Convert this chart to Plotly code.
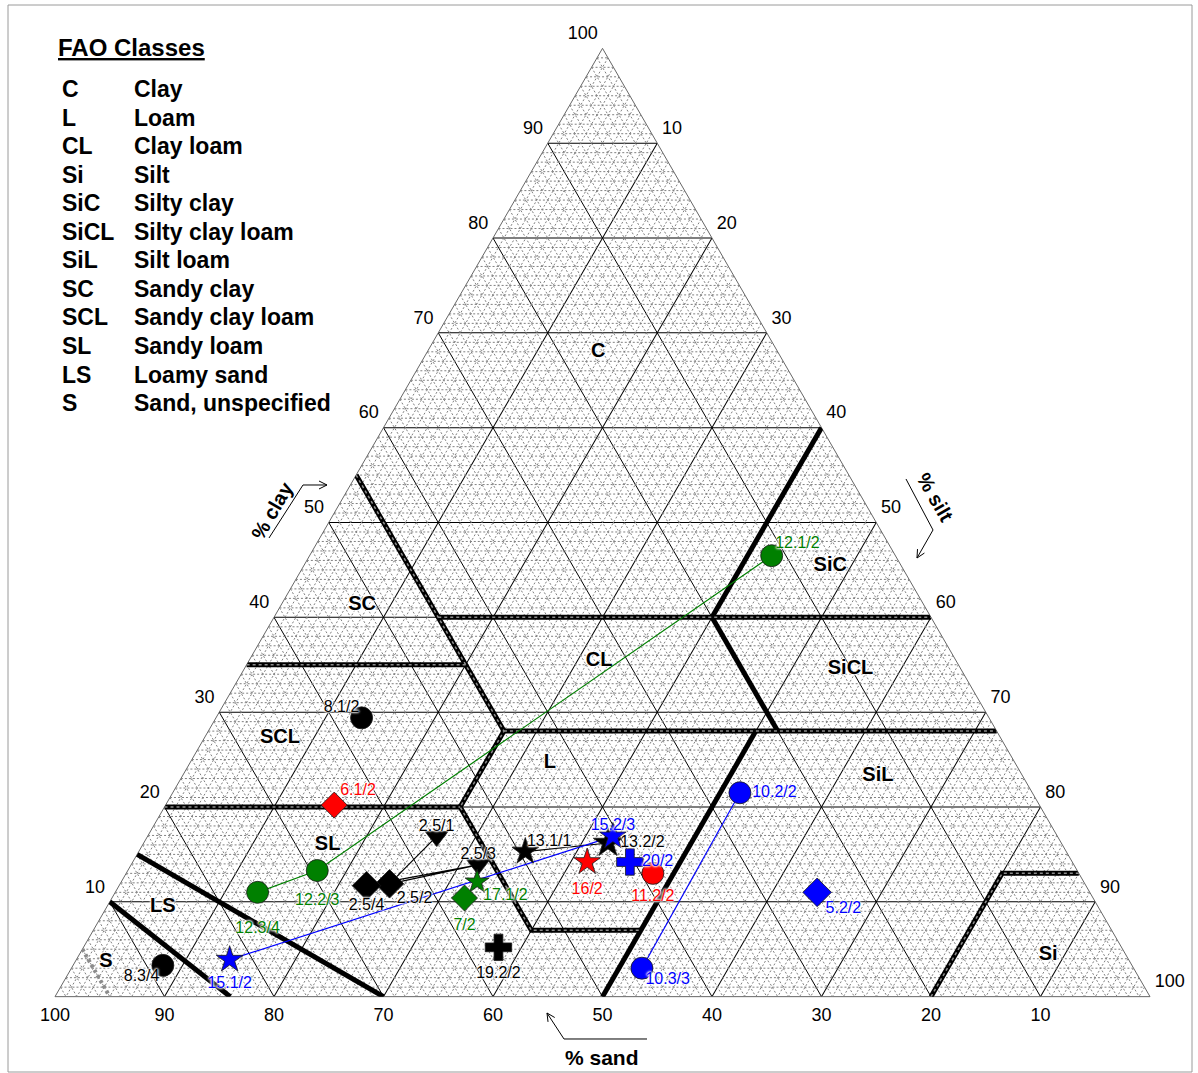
import plotly.graph_objects as go

W, H = 1198, 1073
FONT = "Liberation Sans, Arial, sans-serif"

# ---- sample compositions (%) ----
labels = ["12.1/2", "12.2/3", "12.3/4", "8.1/2", "8.3/4", "6.1/2",
          "2.5/1", "2.5/2", "2.5/3", "2.5/4", "13.1/1", "13.2/2",
          "15.1/2", "15.2/3", "16/2", "20/2", "11.2/2", "10.2/2",
          "10.3/3", "5.2/2", "17.1/2", "7/2", "19.2/2"]
sand = [11.3, 69.4, 76.0, 57.3, 88.5, 64.4,
        56.7, 63.5, 54.4, 65.7, 49.4, 41.4,
        82.1, 40.6, 44.3, 40.4, 38.9, 26.7,
        44.9, 24.9, 55.4, 57.4, 56.9]
silt = [42.2, 17.3, 13.0, 13.3, 8.2, 15.4,
        26.4, 24.6, 31.7, 22.6, 35.3, 42.4,
        14.0, 42.5, 41.5, 45.4, 48.1, 51.8,
        52.1, 64.1, 32.5, 32.2, 37.9]
clay = [46.5, 13.3, 11.0, 29.4, 3.3, 20.2,
        16.9, 11.9, 13.9, 11.7, 15.3, 16.2,
        3.9, 16.9, 14.2, 14.2, 13.0, 21.5,
        3.0, 11.0, 12.1, 10.4, 5.2]

# horizon sequences joined by a line
profiles = [["12.3/4", "12.2/3", "12.1/2"],
            ["2.5/1", "2.5/2", "2.5/3", "2.5/4"],
            ["13.1/1", "13.2/2"],
            ["15.1/2", "15.2/3"],
            ["10.2/2", "10.3/3"]]

# ---- FAO texture class boundaries, vertices as (sand, silt, clay) ----
boundaries = [
    [(45, 0, 55), (45, 15, 40), (45, 27, 28), (53, 27, 20), (53, 40, 7), (43, 50, 7)],
    [(50, 50, 0), (22, 50, 28)],
    [(45, 15, 40), (0, 60, 40)],
    [(65, 0, 35), (45, 20, 35)],
    [(45, 27, 28), (0, 72, 28)],
    [(80, 0, 20), (53, 27, 20)],
    [(0, 40, 60), (20, 40, 40)],
    [(20, 40, 40), (20, 52, 28)],
    [(85, 0, 15), (70, 30, 0)],
    [(90, 0, 10), (84, 16, 0)],
    [(20, 80, 0), (7, 80, 13), (0, 87, 13)],
]
# boundaries drawn with a dotted core
dotted_core = [0, 2, 3, 4, 5, 10]
sand_subdivision = [(95, 0, 5), (95, 5, 0)]

# ---- class labels ----
class_names = ["C", "SC", "CL", "SiC", "SiCL", "SCL", "L", "SiL", "SL", "LS", "S", "Si"]
class_sand = [16.4, 51.3, 32.6, 6.5, 10.1, 65.8, 42.5, 13.2, 67.1, 85.4, 93.5, 7.1]
class_silt = [15.6, 7.4, 32.0, 48.1, 55.4, 6.9, 32.9, 63.5, 16.9, 5.1, 2.8, 88.5]
class_clay = [68.0, 41.3, 35.4, 45.4, 34.5, 27.3, 24.6, 23.3, 16.0, 9.5, 3.7, 4.4]

legend_abbr = ["C", "L", "CL", "Si", "SiC", "SiCL", "SiL", "SC", "SCL", "SL", "LS", "S"]
legend_name = ["Clay", "Loam", "Clay loam", "Silt", "Silty clay", "Silty clay loam",
               "Silt loam", "Sandy clay", "Sandy clay loam", "Sandy loam",
               "Loamy sand", "Sand, unspecified"]

ticks = list(range(10, 101, 10))

# ---- marker styling per sample: symbol, colour, size, label side, label gap ----
GREEN, BLUE, RED, BLACK = "#008000", "#0000ff", "#ff0000", "#000000"
style = {
    "12.1/2": ("circle", GREEN, 22, "top right", 4),
    "12.2/3": ("circle", GREEN, 22, "bottom center", 34),
    "12.3/4": ("circle", GREEN, 22, "bottom center", 44),
    "8.1/2": ("circle", BLACK, 22, "top left", 2),
    "8.3/4": ("circle", BLACK, 22, "bottom left", 4),
    "6.1/2": ("diamond", RED, 20, "top right", 8),
    "2.5/1": ("triangle-down", BLACK, 20, "top center", 1),
    "2.5/2": ("diamond", BLACK, 22, "bottom right", 10),
    "2.5/3": ("triangle-down", BLACK, 20, "top center", 1),
    "2.5/4": ("diamond", BLACK, 22, "bottom center", 18),
    "13.1/1": ("star", BLACK, 20, "top right", 1),
    "13.2/2": ("star", BLACK, 22, "middle right", 18),
    "15.1/2": ("star", BLUE, 20, "bottom center", 24),
    "15.2/3": ("star", BLUE, 20, "top center", 2),
    "16/2": ("star", RED, 20, "bottom center", 30),
    "20/2": ("cross", BLUE, 22, "middle right", 18),
    "11.2/2": ("circle", RED, 22, "bottom center", 24),
    "10.2/2": ("circle", BLUE, 22, "middle right", 18),
    "10.3/3": ("circle", BLUE, 22, "bottom right", 4),
    "5.2/2": ("diamond", BLUE, 22, "bottom right", 12),
    "17.1/2": ("star", GREEN, 18, "bottom right", 8),
    "7/2": ("diamond", GREEN, 20, "bottom center", 30),
    "19.2/2": ("cross", BLACK, 22, "bottom center", 28),
}

HALO = "0px 0px 2px #fff, 0px 0px 2px #fff, 0px 0px 3px #fff, 0px 0px 3px #fff"

fig = go.Figure()


def seg_arrays(segments):
    a, b, c = [], [], []
    for seg in segments:
        for s, si, cl in seg:
            a.append(cl)
            b.append(s)
            c.append(si)
        a.append(None)
        b.append(None)
        c.append(None)
    return a, b, c


def spacer(size):
    # invisible marker that only sets how far a text sits from its point
    return dict(size=size, opacity=0, color="white", line=dict(width=0))


# fine 1 % mesh
mesh = []
for v in range(1, 100):
    if v % 10 == 0:
        continue
    mesh.append([(100 - v, 0, v), (0, 100 - v, v)])      # clay = v
    mesh.append([(v, 0, 100 - v), (v, 100 - v, 0)])      # sand = v
    mesh.append([(0, v, 100 - v), (100 - v, v, 0)])      # silt = v
ma, mb, mc = seg_arrays(mesh)
fig.add_trace(go.Scatterternary(a=ma, b=mb, c=mc, mode="lines", hoverinfo="skip",
                                line=dict(color="#808080", width=1, dash="2px,2px"),
                                showlegend=False))

# class boundaries
ba, bb, bc = seg_arrays(boundaries)
fig.add_trace(go.Scatterternary(a=ba, b=bb, c=bc, mode="lines", hoverinfo="skip",
                                line=dict(color="black", width=5), showlegend=False))
da, db, dc = seg_arrays([boundaries[i] for i in dotted_core])
fig.add_trace(go.Scatterternary(a=da, b=db, c=dc, mode="lines", hoverinfo="skip",
                                line=dict(color="#8c8c8c", width=1.5, dash="3px,3px"),
                                showlegend=False))
sa, sb, sc = seg_arrays([sand_subdivision])
fig.add_trace(go.Scatterternary(a=sa, b=sb, c=sc, mode="lines", hoverinfo="skip",
                                line=dict(color="#8c8c8c", width=4, dash="3px,3px"),
                                showlegend=False))

# axis tick labels: clay along the left edge, silt along the right, sand along the base
tick_font = dict(family=FONT, size=18, color="black")
zeros = [0] * len(ticks)
rest = [100 - v for v in ticks]
txt = [str(v) for v in ticks]
for ta, tb, tc, pos, gap in [(ticks, rest, zeros, "top left", 6),
                             (rest, zeros, ticks, "top right", 6),
                             (zeros, ticks, rest, "bottom center", 16)]:
    fig.add_trace(go.Scatterternary(a=ta, b=tb, c=tc, mode="markers+text", text=txt,
                                    textposition=pos, hoverinfo="skip", showlegend=False,
                                    cliponaxis=False, marker=spacer(gap), textfont=tick_font))

# class names
fig.add_trace(go.Scatterternary(a=class_clay, b=class_sand, c=class_silt, mode="text",
                                text=class_names, hoverinfo="skip", showlegend=False,
                                textfont=dict(family=FONT, size=20, color="black",
                                              weight="bold", shadow=HALO)))

# profile connecting lines
idx = {name: i for i, name in enumerate(labels)}
for prof in profiles:
    col = style[prof[0]][1]
    fig.add_trace(go.Scatterternary(
        a=[clay[idx[p]] for p in prof], b=[sand[idx[p]] for p in prof],
        c=[silt[idx[p]] for p in prof], mode="lines", hoverinfo="skip",
        line=dict(color=col, width=1.2), showlegend=False))

# sample markers
for i, name in enumerate(labels):
    sym, col, size, _, _ = style[name]
    fig.add_trace(go.Scatterternary(
        a=[clay[i]], b=[sand[i]], c=[silt[i]], mode="markers", name=name,
        marker=dict(symbol=sym, color=col, size=size,
                    line=dict(color="#1a1a1a", width=0.8)),
        showlegend=False))

# sample labels on top
fig.add_trace(go.Scatterternary(
    a=clay, b=sand, c=silt, mode="markers+text", text=labels, hoverinfo="skip",
    textposition=[style[n][3] for n in labels],
    marker=spacer([style[n][4] for n in labels]),
    textfont=dict(family=FONT, size=16, color=[style[n][1] for n in labels], shadow=HALO),
    showlegend=False))


def axis(**kw):
    d = dict(min=0, tickmode="array", tickvals=ticks, ticks="", showgrid=True,
             showticklabels=False,
             gridcolor="black", gridwidth=1, linecolor="#666666", linewidth=1,
             layer="below traces", title=dict(text=""))
    d.update(kw)
    return d


fig.update_layout(
    width=W, height=H,
    margin=dict(l=0, r=0, t=0, b=0),
    paper_bgcolor="white",
    ternary=dict(
        sum=100,
        bgcolor="white",
        domain=dict(x=[55 / W, 1150 / W], y=[1 - 997 / H, 1 - 48 / H]),
        aaxis=axis(),
        baxis=axis(),
        caxis=axis(),
    ),
)


def P(x, y):
    return x / W, 1 - y / H


def path(points):
    s = ""
    for k, (x, y) in enumerate(points):
        px, py = P(x, y)
        s += ("M" if k == 0 else "L") + f"{px:.5f},{py:.5f} "
    return s


def arrow(points, head=8, half=4):
    (x0, y0), (x1, y1) = points[-2], points[-1]
    L = ((x1 - x0) ** 2 + (y1 - y0) ** 2) ** 0.5
    ux, uy = (x1 - x0) / L, (y1 - y0) / L
    bx, by = x1 - head * ux, y1 - head * uy
    h1 = (bx - half * uy, by + half * ux)
    h2 = (bx + half * uy, by - half * ux)
    return path(points) + path([h1, (x1, y1), h2])


shapes = [
    dict(type="path", xref="paper", yref="paper", path=arrow([(269, 538), (303, 485), (327, 485)]),
         line=dict(color="black", width=1)),
    dict(type="path", xref="paper", yref="paper", path=arrow([(906, 479), (933, 530), (917, 558)]),
         line=dict(color="black", width=1)),
    dict(type="path", xref="paper", yref="paper", path=arrow([(647, 1039), (564, 1039), (547, 1013)]),
         line=dict(color="black", width=1)),
    dict(type="rect", xref="paper", yref="paper", x0=8 / W, x1=1192 / W, y0=1 - 1072 / H, y1=1 - 5 / H,
         line=dict(color="#9a9a9a", width=1)),
]

ann = [
    dict(text="<b>% clay</b>", x=P(272, 511)[0], y=P(272, 511)[1], textangle=-60,
         font=dict(family=FONT, size=20, color="black")),
    dict(text="<b>% silt</b>", x=P(935, 497)[0], y=P(935, 497)[1], textangle=60,
         font=dict(family=FONT, size=20, color="black")),
    dict(text="<b>% sand</b>", x=P(602, 1057)[0], y=P(602, 1057)[1],
         font=dict(family=FONT, size=21, color="black")),
    dict(text="<b><u>FAO Classes</u></b>", x=P(56, 48)[0], y=P(56, 48)[1], xanchor="left",
         font=dict(family=FONT, size=24, color="black")),
]
for k, (ab, nm) in enumerate(zip(legend_abbr, legend_name)):
    yy = 89 + k * 28.55
    ann.append(dict(text=f"<b>{ab}</b>", x=P(60, yy)[0], y=P(60, yy)[1], xanchor="left",
                    font=dict(family=FONT, size=23, color="black")))
    ann.append(dict(text=f"<b>{nm}</b>", x=P(132, yy)[0], y=P(132, yy)[1], xanchor="left",
                    font=dict(family=FONT, size=23, color="black")))
for a_ in ann:
    a_.update(xref="paper", yref="paper", showarrow=False)
    a_.setdefault("xanchor", "center")
    a_.setdefault("yanchor", "middle")

fig.update_layout(shapes=shapes, annotations=ann)
fig.write_html("out.html")
